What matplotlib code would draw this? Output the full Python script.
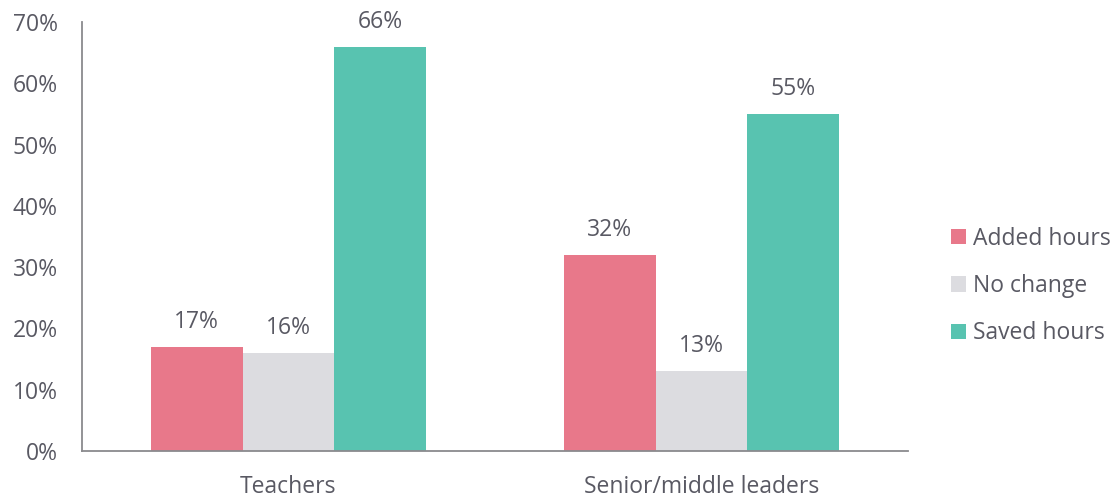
import numpy as np
import matplotlib
matplotlib.use("Agg")
import matplotlib.pyplot as plt

# data
groups = ["Teachers", "Senior/middle leaders"]
series = ["Added hours", "No change", "Saved hours"]
added = [17, 32]
no_change = [16, 13]
saved = [66, 55]
colors = ["#E8788A", "#DCDCE0", "#58C3B0"]

TEXT = "#595963"
FS = 16.5
plt.rcParams["font.family"] = ["Open Sans", "DejaVu Sans"]

fig = plt.figure(figsize=(11.19, 4.99), dpi=100)
ax = fig.add_axes([82 / 1119, 48 / 499, 826 / 1119, 429 / 499])

x = np.arange(len(groups))
w = 0.222
for i, (name, vals) in enumerate(zip(series, [added, no_change, saved])):
    pos = x + (i - 1) * w
    ax.bar(pos, vals, width=w, color=colors[i], label=name, zorder=2)
    for p, v in zip(pos, vals):
        ax.text(p, v + 3.1, f"{v}%", ha="center", va="baseline",
                fontsize=FS, color=TEXT)

ax.set_xlim(-0.5, 1.5)
ax.set_ylim(0, 70)
ax.set_yticks(np.arange(0, 71, 10))
ax.set_yticklabels([f"{t}%" for t in range(0, 71, 10)])
ax.set_xticks(x)
ax.set_xticklabels(groups)
ax.tick_params(axis="both", length=0, labelsize=FS, colors=TEXT)
ax.tick_params(axis="y", pad=17.5)
ax.tick_params(axis="x", pad=17)

for s in ["top", "right"]:
    ax.spines[s].set_visible(False)
for s in ["left", "bottom"]:
    ax.spines[s].set_color("#8a8a8e")
    ax.spines[s].set_linewidth(1.3)

# legend centred at ~283 px from the top
leg = ax.legend(loc="center left",
                bbox_to_anchor=(951 / 1119, (499 - 286) / 499),
                bbox_transform=fig.transFigure, frameon=False,
                fontsize=FS, handlelength=0.65, handleheight=0.65,
                handletextpad=0.3, labelspacing=1.02,
                borderpad=0, borderaxespad=0)
for t in leg.get_texts():
    t.set_color(TEXT)

fig.savefig("out.png", dpi=100)
